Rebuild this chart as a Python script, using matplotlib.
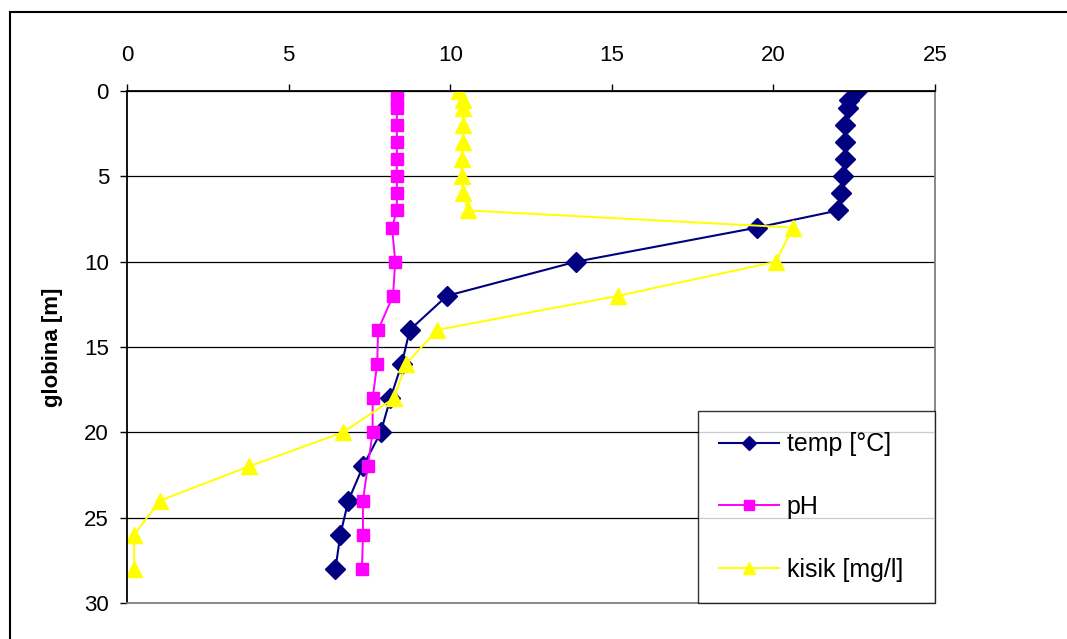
import matplotlib
matplotlib.use("Agg")
import matplotlib.pyplot as plt
from matplotlib.patches import Rectangle

plt.rcParams["font.family"] = ["Liberation Sans", "DejaVu Sans"]

# profil po dubini
globina = [0, 0.5, 1, 2, 3, 4, 5, 6, 7, 8, 10, 12, 14, 16, 18, 20, 22, 24, 26, 28]
temp = [22.6, 22.35, 22.3, 22.2, 22.2, 22.2, 22.15, 22.1, 22.0, 19.5, 13.9, 9.9,
        8.75, 8.5, 8.15, 7.85, 7.3, 6.85, 6.6, 6.45]
ph = [8.35, 8.35, 8.35, 8.35, 8.35, 8.35, 8.35, 8.35, 8.35, 8.2, 8.3, 8.23,
      7.77, 7.74, 7.6, 7.6, 7.45, 7.3, 7.3, 7.27]
kisik = [10.27, 10.4, 10.4, 10.4, 10.4, 10.35, 10.35, 10.4, 10.55, 20.6, 20.08, 15.2,
         9.6, 8.63, 8.26, 6.68, 3.77, 1.02, 0.22, 0.22]
xticks = [0, 5, 10, 15, 20, 25]
yticks = [0, 5, 10, 15, 20, 25, 30]

fig = plt.figure(figsize=(10.67, 6.39), dpi=100)
fig.patches.append(Rectangle((10/1067, -0.05), 1.1, 1.05 - 12/639, transform=fig.transFigure,
                             fill=False, edgecolor="black", linewidth=1.5))
ax = fig.add_axes([127/1067, 1 - 603/639, 808/1067, 512/639])

ax.plot(temp, globina, color="#000080", marker="D", markersize=10, lw=1.5, label="temp [°C]")
ax.plot(ph, globina, color="#FF00FF", marker="s", markersize=9, lw=1.4, label="pH")
ax.plot(kisik, globina, color="#FFFF00", marker="^", markersize=11, lw=1.4, label="kisik [mg/l]")

ax.set_xlim(0, 25)
ax.set_ylim(30, 0)
ax.set_xticks(xticks)
ax.set_yticks(yticks)
ax.xaxis.tick_top()
ax.tick_params(axis="both", labelsize=16, direction="out", length=5, width=1, pad=8)
ax.tick_params(axis="x", pad=13)
ax.grid(axis="y", color="black", lw=0.9)
ax.set_axisbelow(True)
for s in ["top", "left"]:
    ax.spines[s].set_color("black")
    ax.spines[s].set_linewidth(1.3)
for s in ["right", "bottom"]:
    ax.spines[s].set_color("#808080")
    ax.spines[s].set_linewidth(1.3)
ax.set_ylabel("globina [m]", fontsize=16, fontweight="bold")
ax.yaxis.set_label_coords(-0.079, 0.5)

leg = ax.legend(loc="lower left", bbox_to_anchor=(571/808, 0, 237/808, 198/512), mode="expand",
                borderaxespad=0, fontsize=18, fancybox=False, edgecolor="black",
                labelspacing=1.55, handlelength=2.4, borderpad=0.85, handletextpad=0.3,
                markerscale=0.75)
leg.get_frame().set_linewidth(1.0)

fig.savefig("out.png", dpi=100)
